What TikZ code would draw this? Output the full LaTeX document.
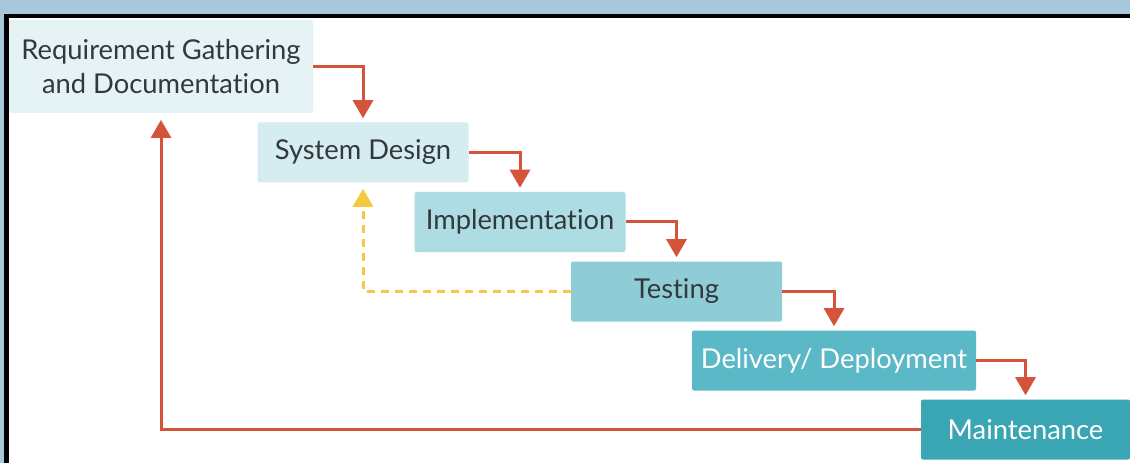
\documentclass[tikz,border=0pt]{standalone}
\usepackage{fontspec}
\setmainfont{Lato}[Ligatures=NoCommon]
\usepackage{xcolor}
\usetikzlibrary{arrows.meta}
\tikzset{>={Triangle[width=15pt,length=13.5pt]}}
\definecolor{frameblue}{HTML}{A7C7DD}
\definecolor{stageA}{HTML}{E5F3F5}
\definecolor{stageB}{HTML}{D5ECF0}
\definecolor{stageC}{HTML}{AEDCE3}
\definecolor{stageD}{HTML}{8ECDD6}
\definecolor{stageE}{HTML}{5BB8C6}
\definecolor{stageF}{HTML}{3AA6B4}
\definecolor{darktext}{HTML}{33383D}
\definecolor{flowred}{HTML}{D5533A}
\definecolor{backyellow}{HTML}{F5C842}
\tikzstyle{stage}=[inner sep=0pt,align=center,rounded corners=1.5pt,
  text=darktext,font=\fontsize{20.5}{25.5}\selectfont,
  minimum width=158.25pt,minimum height=45pt]
\tikzstyle{rline}=[flowred,line width=2.25pt,->]
\tikzstyle{yline}=[backyellow,line width=2.25pt,->,dash pattern=on 6pt off 4.5pt]

\begin{document}
\begin{tikzpicture}[x=0.75pt,y=-0.75pt]
      % FRAME
      \fill[frameblue] (0,0) rectangle (1130,463);
      \fill[black] (4,14) rectangle (1130,463);
      \fill[white] (9,18) rectangle (1130,463);

      % STAGES
      \node[stage,fill=stageA,minimum width=228pt,minimum height=69.75pt]
        (req) at (161,66.5) {Requirement Gathering\\and Documentation};
      \node[stage,fill=stageB] (design) at (363,152.5) {System Design};
      \node[stage,fill=stageC] (impl) at (520,222) {Implementation};
      \node[stage,fill=stageD] (test) at (676.5,291.5) {Testing};
      \node[stage,fill=stageE,text=white,minimum width=213pt]
        (deploy) at (834,360.5) {Delivery/ Deployment};
      \node[stage,fill=stageF,text=white,minimum width=156.75pt]
        (maint) at (1025.5,429.5) {Maintenance};

      % FLOW
      \draw[rline,shorten >=3pt] (req.east) -| (design.north);
      \draw[rline,shorten >=3pt] (design.east) -| (impl.north);
      \draw[rline,shorten >=3pt] (impl.east) -| (test.north);
      \draw[rline,shorten >=3pt] (test.east) -| (deploy.north);
      \draw[rline,shorten >=3pt] (deploy.east) -| (maint.north);
      \draw[rline,shorten >=5pt] (maint.west) -| (req.south);
      \draw[yline,shorten >=4.5pt] (test.west) -| (design.south);
\end{tikzpicture}
\end{document}
